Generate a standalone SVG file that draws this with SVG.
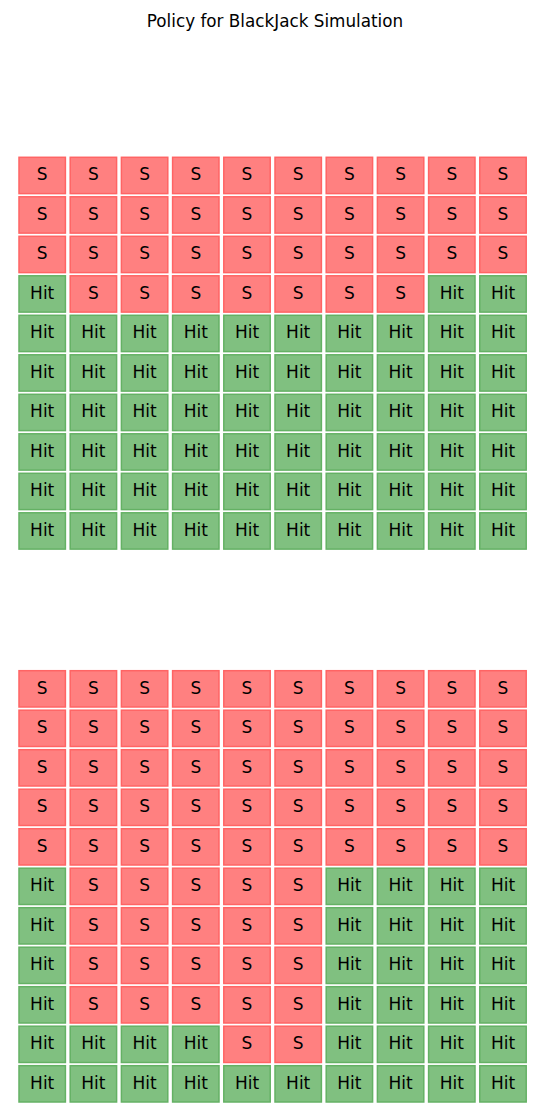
<svg xmlns="http://www.w3.org/2000/svg" width="550" height="1120" viewBox="0 0 550 1120">
<style>
.s rect{fill:#ff8080;stroke:#ff6464;stroke-width:1.5}
.h rect{fill:#80c080;stroke:#64b164;stroke-width:1.5}
text{font-family:"DejaVu Sans","Liberation Sans",sans-serif;font-size:17px;fill:#000;text-anchor:middle}
.title{font-size:16.8px}
</style>
<rect width="550" height="1120" fill="#fff"/>
<text class="title" x="275" y="27">Policy for BlackJack Simulation</text>
<g id="connectors"></g>
<g id="top-grid">
<g id="t-0-0" class="s" transform="translate(19,157.3)"><rect width="46.4" height="36.3"/><text x="23.2" y="23">S</text></g>
<g id="t-0-1" class="s" transform="translate(70.2,157.3)"><rect width="46.4" height="36.3"/><text x="23.2" y="23">S</text></g>
<g id="t-0-2" class="s" transform="translate(121.4,157.3)"><rect width="46.4" height="36.3"/><text x="23.2" y="23">S</text></g>
<g id="t-0-3" class="s" transform="translate(172.6,157.3)"><rect width="46.4" height="36.3"/><text x="23.2" y="23">S</text></g>
<g id="t-0-4" class="s" transform="translate(223.8,157.3)"><rect width="46.4" height="36.3"/><text x="23.2" y="23">S</text></g>
<g id="t-0-5" class="s" transform="translate(275,157.3)"><rect width="46.4" height="36.3"/><text x="23.2" y="23">S</text></g>
<g id="t-0-6" class="s" transform="translate(326.2,157.3)"><rect width="46.4" height="36.3"/><text x="23.2" y="23">S</text></g>
<g id="t-0-7" class="s" transform="translate(377.4,157.3)"><rect width="46.4" height="36.3"/><text x="23.2" y="23">S</text></g>
<g id="t-0-8" class="s" transform="translate(428.6,157.3)"><rect width="46.4" height="36.3"/><text x="23.2" y="23">S</text></g>
<g id="t-0-9" class="s" transform="translate(479.8,157.3)"><rect width="46.4" height="36.3"/><text x="23.2" y="23">S</text></g>
<g id="t-1-0" class="s" transform="translate(19,196.8)"><rect width="46.4" height="36.3"/><text x="23.2" y="23">S</text></g>
<g id="t-1-1" class="s" transform="translate(70.2,196.8)"><rect width="46.4" height="36.3"/><text x="23.2" y="23">S</text></g>
<g id="t-1-2" class="s" transform="translate(121.4,196.8)"><rect width="46.4" height="36.3"/><text x="23.2" y="23">S</text></g>
<g id="t-1-3" class="s" transform="translate(172.6,196.8)"><rect width="46.4" height="36.3"/><text x="23.2" y="23">S</text></g>
<g id="t-1-4" class="s" transform="translate(223.8,196.8)"><rect width="46.4" height="36.3"/><text x="23.2" y="23">S</text></g>
<g id="t-1-5" class="s" transform="translate(275,196.8)"><rect width="46.4" height="36.3"/><text x="23.2" y="23">S</text></g>
<g id="t-1-6" class="s" transform="translate(326.2,196.8)"><rect width="46.4" height="36.3"/><text x="23.2" y="23">S</text></g>
<g id="t-1-7" class="s" transform="translate(377.4,196.8)"><rect width="46.4" height="36.3"/><text x="23.2" y="23">S</text></g>
<g id="t-1-8" class="s" transform="translate(428.6,196.8)"><rect width="46.4" height="36.3"/><text x="23.2" y="23">S</text></g>
<g id="t-1-9" class="s" transform="translate(479.8,196.8)"><rect width="46.4" height="36.3"/><text x="23.2" y="23">S</text></g>
<g id="t-2-0" class="s" transform="translate(19,236.3)"><rect width="46.4" height="36.3"/><text x="23.2" y="23">S</text></g>
<g id="t-2-1" class="s" transform="translate(70.2,236.3)"><rect width="46.4" height="36.3"/><text x="23.2" y="23">S</text></g>
<g id="t-2-2" class="s" transform="translate(121.4,236.3)"><rect width="46.4" height="36.3"/><text x="23.2" y="23">S</text></g>
<g id="t-2-3" class="s" transform="translate(172.6,236.3)"><rect width="46.4" height="36.3"/><text x="23.2" y="23">S</text></g>
<g id="t-2-4" class="s" transform="translate(223.8,236.3)"><rect width="46.4" height="36.3"/><text x="23.2" y="23">S</text></g>
<g id="t-2-5" class="s" transform="translate(275,236.3)"><rect width="46.4" height="36.3"/><text x="23.2" y="23">S</text></g>
<g id="t-2-6" class="s" transform="translate(326.2,236.3)"><rect width="46.4" height="36.3"/><text x="23.2" y="23">S</text></g>
<g id="t-2-7" class="s" transform="translate(377.4,236.3)"><rect width="46.4" height="36.3"/><text x="23.2" y="23">S</text></g>
<g id="t-2-8" class="s" transform="translate(428.6,236.3)"><rect width="46.4" height="36.3"/><text x="23.2" y="23">S</text></g>
<g id="t-2-9" class="s" transform="translate(479.8,236.3)"><rect width="46.4" height="36.3"/><text x="23.2" y="23">S</text></g>
<g id="t-3-0" class="h" transform="translate(19,275.8)"><rect width="46.4" height="36.3"/><text x="23.2" y="23">Hit</text></g>
<g id="t-3-1" class="s" transform="translate(70.2,275.8)"><rect width="46.4" height="36.3"/><text x="23.2" y="23">S</text></g>
<g id="t-3-2" class="s" transform="translate(121.4,275.8)"><rect width="46.4" height="36.3"/><text x="23.2" y="23">S</text></g>
<g id="t-3-3" class="s" transform="translate(172.6,275.8)"><rect width="46.4" height="36.3"/><text x="23.2" y="23">S</text></g>
<g id="t-3-4" class="s" transform="translate(223.8,275.8)"><rect width="46.4" height="36.3"/><text x="23.2" y="23">S</text></g>
<g id="t-3-5" class="s" transform="translate(275,275.8)"><rect width="46.4" height="36.3"/><text x="23.2" y="23">S</text></g>
<g id="t-3-6" class="s" transform="translate(326.2,275.8)"><rect width="46.4" height="36.3"/><text x="23.2" y="23">S</text></g>
<g id="t-3-7" class="s" transform="translate(377.4,275.8)"><rect width="46.4" height="36.3"/><text x="23.2" y="23">S</text></g>
<g id="t-3-8" class="h" transform="translate(428.6,275.8)"><rect width="46.4" height="36.3"/><text x="23.2" y="23">Hit</text></g>
<g id="t-3-9" class="h" transform="translate(479.8,275.8)"><rect width="46.4" height="36.3"/><text x="23.2" y="23">Hit</text></g>
<g id="t-4-0" class="h" transform="translate(19,315.3)"><rect width="46.4" height="36.3"/><text x="23.2" y="23">Hit</text></g>
<g id="t-4-1" class="h" transform="translate(70.2,315.3)"><rect width="46.4" height="36.3"/><text x="23.2" y="23">Hit</text></g>
<g id="t-4-2" class="h" transform="translate(121.4,315.3)"><rect width="46.4" height="36.3"/><text x="23.2" y="23">Hit</text></g>
<g id="t-4-3" class="h" transform="translate(172.6,315.3)"><rect width="46.4" height="36.3"/><text x="23.2" y="23">Hit</text></g>
<g id="t-4-4" class="h" transform="translate(223.8,315.3)"><rect width="46.4" height="36.3"/><text x="23.2" y="23">Hit</text></g>
<g id="t-4-5" class="h" transform="translate(275,315.3)"><rect width="46.4" height="36.3"/><text x="23.2" y="23">Hit</text></g>
<g id="t-4-6" class="h" transform="translate(326.2,315.3)"><rect width="46.4" height="36.3"/><text x="23.2" y="23">Hit</text></g>
<g id="t-4-7" class="h" transform="translate(377.4,315.3)"><rect width="46.4" height="36.3"/><text x="23.2" y="23">Hit</text></g>
<g id="t-4-8" class="h" transform="translate(428.6,315.3)"><rect width="46.4" height="36.3"/><text x="23.2" y="23">Hit</text></g>
<g id="t-4-9" class="h" transform="translate(479.8,315.3)"><rect width="46.4" height="36.3"/><text x="23.2" y="23">Hit</text></g>
<g id="t-5-0" class="h" transform="translate(19,354.8)"><rect width="46.4" height="36.3"/><text x="23.2" y="23">Hit</text></g>
<g id="t-5-1" class="h" transform="translate(70.2,354.8)"><rect width="46.4" height="36.3"/><text x="23.2" y="23">Hit</text></g>
<g id="t-5-2" class="h" transform="translate(121.4,354.8)"><rect width="46.4" height="36.3"/><text x="23.2" y="23">Hit</text></g>
<g id="t-5-3" class="h" transform="translate(172.6,354.8)"><rect width="46.4" height="36.3"/><text x="23.2" y="23">Hit</text></g>
<g id="t-5-4" class="h" transform="translate(223.8,354.8)"><rect width="46.4" height="36.3"/><text x="23.2" y="23">Hit</text></g>
<g id="t-5-5" class="h" transform="translate(275,354.8)"><rect width="46.4" height="36.3"/><text x="23.2" y="23">Hit</text></g>
<g id="t-5-6" class="h" transform="translate(326.2,354.8)"><rect width="46.4" height="36.3"/><text x="23.2" y="23">Hit</text></g>
<g id="t-5-7" class="h" transform="translate(377.4,354.8)"><rect width="46.4" height="36.3"/><text x="23.2" y="23">Hit</text></g>
<g id="t-5-8" class="h" transform="translate(428.6,354.8)"><rect width="46.4" height="36.3"/><text x="23.2" y="23">Hit</text></g>
<g id="t-5-9" class="h" transform="translate(479.8,354.8)"><rect width="46.4" height="36.3"/><text x="23.2" y="23">Hit</text></g>
<g id="t-6-0" class="h" transform="translate(19,394.3)"><rect width="46.4" height="36.3"/><text x="23.2" y="23">Hit</text></g>
<g id="t-6-1" class="h" transform="translate(70.2,394.3)"><rect width="46.4" height="36.3"/><text x="23.2" y="23">Hit</text></g>
<g id="t-6-2" class="h" transform="translate(121.4,394.3)"><rect width="46.4" height="36.3"/><text x="23.2" y="23">Hit</text></g>
<g id="t-6-3" class="h" transform="translate(172.6,394.3)"><rect width="46.4" height="36.3"/><text x="23.2" y="23">Hit</text></g>
<g id="t-6-4" class="h" transform="translate(223.8,394.3)"><rect width="46.4" height="36.3"/><text x="23.2" y="23">Hit</text></g>
<g id="t-6-5" class="h" transform="translate(275,394.3)"><rect width="46.4" height="36.3"/><text x="23.2" y="23">Hit</text></g>
<g id="t-6-6" class="h" transform="translate(326.2,394.3)"><rect width="46.4" height="36.3"/><text x="23.2" y="23">Hit</text></g>
<g id="t-6-7" class="h" transform="translate(377.4,394.3)"><rect width="46.4" height="36.3"/><text x="23.2" y="23">Hit</text></g>
<g id="t-6-8" class="h" transform="translate(428.6,394.3)"><rect width="46.4" height="36.3"/><text x="23.2" y="23">Hit</text></g>
<g id="t-6-9" class="h" transform="translate(479.8,394.3)"><rect width="46.4" height="36.3"/><text x="23.2" y="23">Hit</text></g>
<g id="t-7-0" class="h" transform="translate(19,433.8)"><rect width="46.4" height="36.3"/><text x="23.2" y="23">Hit</text></g>
<g id="t-7-1" class="h" transform="translate(70.2,433.8)"><rect width="46.4" height="36.3"/><text x="23.2" y="23">Hit</text></g>
<g id="t-7-2" class="h" transform="translate(121.4,433.8)"><rect width="46.4" height="36.3"/><text x="23.2" y="23">Hit</text></g>
<g id="t-7-3" class="h" transform="translate(172.6,433.8)"><rect width="46.4" height="36.3"/><text x="23.2" y="23">Hit</text></g>
<g id="t-7-4" class="h" transform="translate(223.8,433.8)"><rect width="46.4" height="36.3"/><text x="23.2" y="23">Hit</text></g>
<g id="t-7-5" class="h" transform="translate(275,433.8)"><rect width="46.4" height="36.3"/><text x="23.2" y="23">Hit</text></g>
<g id="t-7-6" class="h" transform="translate(326.2,433.8)"><rect width="46.4" height="36.3"/><text x="23.2" y="23">Hit</text></g>
<g id="t-7-7" class="h" transform="translate(377.4,433.8)"><rect width="46.4" height="36.3"/><text x="23.2" y="23">Hit</text></g>
<g id="t-7-8" class="h" transform="translate(428.6,433.8)"><rect width="46.4" height="36.3"/><text x="23.2" y="23">Hit</text></g>
<g id="t-7-9" class="h" transform="translate(479.8,433.8)"><rect width="46.4" height="36.3"/><text x="23.2" y="23">Hit</text></g>
<g id="t-8-0" class="h" transform="translate(19,473.3)"><rect width="46.4" height="36.3"/><text x="23.2" y="23">Hit</text></g>
<g id="t-8-1" class="h" transform="translate(70.2,473.3)"><rect width="46.4" height="36.3"/><text x="23.2" y="23">Hit</text></g>
<g id="t-8-2" class="h" transform="translate(121.4,473.3)"><rect width="46.4" height="36.3"/><text x="23.2" y="23">Hit</text></g>
<g id="t-8-3" class="h" transform="translate(172.6,473.3)"><rect width="46.4" height="36.3"/><text x="23.2" y="23">Hit</text></g>
<g id="t-8-4" class="h" transform="translate(223.8,473.3)"><rect width="46.4" height="36.3"/><text x="23.2" y="23">Hit</text></g>
<g id="t-8-5" class="h" transform="translate(275,473.3)"><rect width="46.4" height="36.3"/><text x="23.2" y="23">Hit</text></g>
<g id="t-8-6" class="h" transform="translate(326.2,473.3)"><rect width="46.4" height="36.3"/><text x="23.2" y="23">Hit</text></g>
<g id="t-8-7" class="h" transform="translate(377.4,473.3)"><rect width="46.4" height="36.3"/><text x="23.2" y="23">Hit</text></g>
<g id="t-8-8" class="h" transform="translate(428.6,473.3)"><rect width="46.4" height="36.3"/><text x="23.2" y="23">Hit</text></g>
<g id="t-8-9" class="h" transform="translate(479.8,473.3)"><rect width="46.4" height="36.3"/><text x="23.2" y="23">Hit</text></g>
<g id="t-9-0" class="h" transform="translate(19,512.8)"><rect width="46.4" height="36.3"/><text x="23.2" y="23">Hit</text></g>
<g id="t-9-1" class="h" transform="translate(70.2,512.8)"><rect width="46.4" height="36.3"/><text x="23.2" y="23">Hit</text></g>
<g id="t-9-2" class="h" transform="translate(121.4,512.8)"><rect width="46.4" height="36.3"/><text x="23.2" y="23">Hit</text></g>
<g id="t-9-3" class="h" transform="translate(172.6,512.8)"><rect width="46.4" height="36.3"/><text x="23.2" y="23">Hit</text></g>
<g id="t-9-4" class="h" transform="translate(223.8,512.8)"><rect width="46.4" height="36.3"/><text x="23.2" y="23">Hit</text></g>
<g id="t-9-5" class="h" transform="translate(275,512.8)"><rect width="46.4" height="36.3"/><text x="23.2" y="23">Hit</text></g>
<g id="t-9-6" class="h" transform="translate(326.2,512.8)"><rect width="46.4" height="36.3"/><text x="23.2" y="23">Hit</text></g>
<g id="t-9-7" class="h" transform="translate(377.4,512.8)"><rect width="46.4" height="36.3"/><text x="23.2" y="23">Hit</text></g>
<g id="t-9-8" class="h" transform="translate(428.6,512.8)"><rect width="46.4" height="36.3"/><text x="23.2" y="23">Hit</text></g>
<g id="t-9-9" class="h" transform="translate(479.8,512.8)"><rect width="46.4" height="36.3"/><text x="23.2" y="23">Hit</text></g>
</g>
<g id="bottom-grid">
<g id="b-0-0" class="s" transform="translate(19,670.7)"><rect width="46.4" height="36.3"/><text x="23.2" y="23">S</text></g>
<g id="b-0-1" class="s" transform="translate(70.2,670.7)"><rect width="46.4" height="36.3"/><text x="23.2" y="23">S</text></g>
<g id="b-0-2" class="s" transform="translate(121.4,670.7)"><rect width="46.4" height="36.3"/><text x="23.2" y="23">S</text></g>
<g id="b-0-3" class="s" transform="translate(172.6,670.7)"><rect width="46.4" height="36.3"/><text x="23.2" y="23">S</text></g>
<g id="b-0-4" class="s" transform="translate(223.8,670.7)"><rect width="46.4" height="36.3"/><text x="23.2" y="23">S</text></g>
<g id="b-0-5" class="s" transform="translate(275,670.7)"><rect width="46.4" height="36.3"/><text x="23.2" y="23">S</text></g>
<g id="b-0-6" class="s" transform="translate(326.2,670.7)"><rect width="46.4" height="36.3"/><text x="23.2" y="23">S</text></g>
<g id="b-0-7" class="s" transform="translate(377.4,670.7)"><rect width="46.4" height="36.3"/><text x="23.2" y="23">S</text></g>
<g id="b-0-8" class="s" transform="translate(428.6,670.7)"><rect width="46.4" height="36.3"/><text x="23.2" y="23">S</text></g>
<g id="b-0-9" class="s" transform="translate(479.8,670.7)"><rect width="46.4" height="36.3"/><text x="23.2" y="23">S</text></g>
<g id="b-1-0" class="s" transform="translate(19,710.2)"><rect width="46.4" height="36.3"/><text x="23.2" y="23">S</text></g>
<g id="b-1-1" class="s" transform="translate(70.2,710.2)"><rect width="46.4" height="36.3"/><text x="23.2" y="23">S</text></g>
<g id="b-1-2" class="s" transform="translate(121.4,710.2)"><rect width="46.4" height="36.3"/><text x="23.2" y="23">S</text></g>
<g id="b-1-3" class="s" transform="translate(172.6,710.2)"><rect width="46.4" height="36.3"/><text x="23.2" y="23">S</text></g>
<g id="b-1-4" class="s" transform="translate(223.8,710.2)"><rect width="46.4" height="36.3"/><text x="23.2" y="23">S</text></g>
<g id="b-1-5" class="s" transform="translate(275,710.2)"><rect width="46.4" height="36.3"/><text x="23.2" y="23">S</text></g>
<g id="b-1-6" class="s" transform="translate(326.2,710.2)"><rect width="46.4" height="36.3"/><text x="23.2" y="23">S</text></g>
<g id="b-1-7" class="s" transform="translate(377.4,710.2)"><rect width="46.4" height="36.3"/><text x="23.2" y="23">S</text></g>
<g id="b-1-8" class="s" transform="translate(428.6,710.2)"><rect width="46.4" height="36.3"/><text x="23.2" y="23">S</text></g>
<g id="b-1-9" class="s" transform="translate(479.8,710.2)"><rect width="46.4" height="36.3"/><text x="23.2" y="23">S</text></g>
<g id="b-2-0" class="s" transform="translate(19,749.7)"><rect width="46.4" height="36.3"/><text x="23.2" y="23">S</text></g>
<g id="b-2-1" class="s" transform="translate(70.2,749.7)"><rect width="46.4" height="36.3"/><text x="23.2" y="23">S</text></g>
<g id="b-2-2" class="s" transform="translate(121.4,749.7)"><rect width="46.4" height="36.3"/><text x="23.2" y="23">S</text></g>
<g id="b-2-3" class="s" transform="translate(172.6,749.7)"><rect width="46.4" height="36.3"/><text x="23.2" y="23">S</text></g>
<g id="b-2-4" class="s" transform="translate(223.8,749.7)"><rect width="46.4" height="36.3"/><text x="23.2" y="23">S</text></g>
<g id="b-2-5" class="s" transform="translate(275,749.7)"><rect width="46.4" height="36.3"/><text x="23.2" y="23">S</text></g>
<g id="b-2-6" class="s" transform="translate(326.2,749.7)"><rect width="46.4" height="36.3"/><text x="23.2" y="23">S</text></g>
<g id="b-2-7" class="s" transform="translate(377.4,749.7)"><rect width="46.4" height="36.3"/><text x="23.2" y="23">S</text></g>
<g id="b-2-8" class="s" transform="translate(428.6,749.7)"><rect width="46.4" height="36.3"/><text x="23.2" y="23">S</text></g>
<g id="b-2-9" class="s" transform="translate(479.8,749.7)"><rect width="46.4" height="36.3"/><text x="23.2" y="23">S</text></g>
<g id="b-3-0" class="s" transform="translate(19,789.2)"><rect width="46.4" height="36.3"/><text x="23.2" y="23">S</text></g>
<g id="b-3-1" class="s" transform="translate(70.2,789.2)"><rect width="46.4" height="36.3"/><text x="23.2" y="23">S</text></g>
<g id="b-3-2" class="s" transform="translate(121.4,789.2)"><rect width="46.4" height="36.3"/><text x="23.2" y="23">S</text></g>
<g id="b-3-3" class="s" transform="translate(172.6,789.2)"><rect width="46.4" height="36.3"/><text x="23.2" y="23">S</text></g>
<g id="b-3-4" class="s" transform="translate(223.8,789.2)"><rect width="46.4" height="36.3"/><text x="23.2" y="23">S</text></g>
<g id="b-3-5" class="s" transform="translate(275,789.2)"><rect width="46.4" height="36.3"/><text x="23.2" y="23">S</text></g>
<g id="b-3-6" class="s" transform="translate(326.2,789.2)"><rect width="46.4" height="36.3"/><text x="23.2" y="23">S</text></g>
<g id="b-3-7" class="s" transform="translate(377.4,789.2)"><rect width="46.4" height="36.3"/><text x="23.2" y="23">S</text></g>
<g id="b-3-8" class="s" transform="translate(428.6,789.2)"><rect width="46.4" height="36.3"/><text x="23.2" y="23">S</text></g>
<g id="b-3-9" class="s" transform="translate(479.8,789.2)"><rect width="46.4" height="36.3"/><text x="23.2" y="23">S</text></g>
<g id="b-4-0" class="s" transform="translate(19,828.7)"><rect width="46.4" height="36.3"/><text x="23.2" y="23">S</text></g>
<g id="b-4-1" class="s" transform="translate(70.2,828.7)"><rect width="46.4" height="36.3"/><text x="23.2" y="23">S</text></g>
<g id="b-4-2" class="s" transform="translate(121.4,828.7)"><rect width="46.4" height="36.3"/><text x="23.2" y="23">S</text></g>
<g id="b-4-3" class="s" transform="translate(172.6,828.7)"><rect width="46.4" height="36.3"/><text x="23.2" y="23">S</text></g>
<g id="b-4-4" class="s" transform="translate(223.8,828.7)"><rect width="46.4" height="36.3"/><text x="23.2" y="23">S</text></g>
<g id="b-4-5" class="s" transform="translate(275,828.7)"><rect width="46.4" height="36.3"/><text x="23.2" y="23">S</text></g>
<g id="b-4-6" class="s" transform="translate(326.2,828.7)"><rect width="46.4" height="36.3"/><text x="23.2" y="23">S</text></g>
<g id="b-4-7" class="s" transform="translate(377.4,828.7)"><rect width="46.4" height="36.3"/><text x="23.2" y="23">S</text></g>
<g id="b-4-8" class="s" transform="translate(428.6,828.7)"><rect width="46.4" height="36.3"/><text x="23.2" y="23">S</text></g>
<g id="b-4-9" class="s" transform="translate(479.8,828.7)"><rect width="46.4" height="36.3"/><text x="23.2" y="23">S</text></g>
<g id="b-5-0" class="h" transform="translate(19,868.2)"><rect width="46.4" height="36.3"/><text x="23.2" y="23">Hit</text></g>
<g id="b-5-1" class="s" transform="translate(70.2,868.2)"><rect width="46.4" height="36.3"/><text x="23.2" y="23">S</text></g>
<g id="b-5-2" class="s" transform="translate(121.4,868.2)"><rect width="46.4" height="36.3"/><text x="23.2" y="23">S</text></g>
<g id="b-5-3" class="s" transform="translate(172.6,868.2)"><rect width="46.4" height="36.3"/><text x="23.2" y="23">S</text></g>
<g id="b-5-4" class="s" transform="translate(223.8,868.2)"><rect width="46.4" height="36.3"/><text x="23.2" y="23">S</text></g>
<g id="b-5-5" class="s" transform="translate(275,868.2)"><rect width="46.4" height="36.3"/><text x="23.2" y="23">S</text></g>
<g id="b-5-6" class="h" transform="translate(326.2,868.2)"><rect width="46.4" height="36.3"/><text x="23.2" y="23">Hit</text></g>
<g id="b-5-7" class="h" transform="translate(377.4,868.2)"><rect width="46.4" height="36.3"/><text x="23.2" y="23">Hit</text></g>
<g id="b-5-8" class="h" transform="translate(428.6,868.2)"><rect width="46.4" height="36.3"/><text x="23.2" y="23">Hit</text></g>
<g id="b-5-9" class="h" transform="translate(479.8,868.2)"><rect width="46.4" height="36.3"/><text x="23.2" y="23">Hit</text></g>
<g id="b-6-0" class="h" transform="translate(19,907.7)"><rect width="46.4" height="36.3"/><text x="23.2" y="23">Hit</text></g>
<g id="b-6-1" class="s" transform="translate(70.2,907.7)"><rect width="46.4" height="36.3"/><text x="23.2" y="23">S</text></g>
<g id="b-6-2" class="s" transform="translate(121.4,907.7)"><rect width="46.4" height="36.3"/><text x="23.2" y="23">S</text></g>
<g id="b-6-3" class="s" transform="translate(172.6,907.7)"><rect width="46.4" height="36.3"/><text x="23.2" y="23">S</text></g>
<g id="b-6-4" class="s" transform="translate(223.8,907.7)"><rect width="46.4" height="36.3"/><text x="23.2" y="23">S</text></g>
<g id="b-6-5" class="s" transform="translate(275,907.7)"><rect width="46.4" height="36.3"/><text x="23.2" y="23">S</text></g>
<g id="b-6-6" class="h" transform="translate(326.2,907.7)"><rect width="46.4" height="36.3"/><text x="23.2" y="23">Hit</text></g>
<g id="b-6-7" class="h" transform="translate(377.4,907.7)"><rect width="46.4" height="36.3"/><text x="23.2" y="23">Hit</text></g>
<g id="b-6-8" class="h" transform="translate(428.6,907.7)"><rect width="46.4" height="36.3"/><text x="23.2" y="23">Hit</text></g>
<g id="b-6-9" class="h" transform="translate(479.8,907.7)"><rect width="46.4" height="36.3"/><text x="23.2" y="23">Hit</text></g>
<g id="b-7-0" class="h" transform="translate(19,947.2)"><rect width="46.4" height="36.3"/><text x="23.2" y="23">Hit</text></g>
<g id="b-7-1" class="s" transform="translate(70.2,947.2)"><rect width="46.4" height="36.3"/><text x="23.2" y="23">S</text></g>
<g id="b-7-2" class="s" transform="translate(121.4,947.2)"><rect width="46.4" height="36.3"/><text x="23.2" y="23">S</text></g>
<g id="b-7-3" class="s" transform="translate(172.6,947.2)"><rect width="46.4" height="36.3"/><text x="23.2" y="23">S</text></g>
<g id="b-7-4" class="s" transform="translate(223.8,947.2)"><rect width="46.4" height="36.3"/><text x="23.2" y="23">S</text></g>
<g id="b-7-5" class="s" transform="translate(275,947.2)"><rect width="46.4" height="36.3"/><text x="23.2" y="23">S</text></g>
<g id="b-7-6" class="h" transform="translate(326.2,947.2)"><rect width="46.4" height="36.3"/><text x="23.2" y="23">Hit</text></g>
<g id="b-7-7" class="h" transform="translate(377.4,947.2)"><rect width="46.4" height="36.3"/><text x="23.2" y="23">Hit</text></g>
<g id="b-7-8" class="h" transform="translate(428.6,947.2)"><rect width="46.4" height="36.3"/><text x="23.2" y="23">Hit</text></g>
<g id="b-7-9" class="h" transform="translate(479.8,947.2)"><rect width="46.4" height="36.3"/><text x="23.2" y="23">Hit</text></g>
<g id="b-8-0" class="h" transform="translate(19,986.7)"><rect width="46.4" height="36.3"/><text x="23.2" y="23">Hit</text></g>
<g id="b-8-1" class="s" transform="translate(70.2,986.7)"><rect width="46.4" height="36.3"/><text x="23.2" y="23">S</text></g>
<g id="b-8-2" class="s" transform="translate(121.4,986.7)"><rect width="46.4" height="36.3"/><text x="23.2" y="23">S</text></g>
<g id="b-8-3" class="s" transform="translate(172.6,986.7)"><rect width="46.4" height="36.3"/><text x="23.2" y="23">S</text></g>
<g id="b-8-4" class="s" transform="translate(223.8,986.7)"><rect width="46.4" height="36.3"/><text x="23.2" y="23">S</text></g>
<g id="b-8-5" class="s" transform="translate(275,986.7)"><rect width="46.4" height="36.3"/><text x="23.2" y="23">S</text></g>
<g id="b-8-6" class="h" transform="translate(326.2,986.7)"><rect width="46.4" height="36.3"/><text x="23.2" y="23">Hit</text></g>
<g id="b-8-7" class="h" transform="translate(377.4,986.7)"><rect width="46.4" height="36.3"/><text x="23.2" y="23">Hit</text></g>
<g id="b-8-8" class="h" transform="translate(428.6,986.7)"><rect width="46.4" height="36.3"/><text x="23.2" y="23">Hit</text></g>
<g id="b-8-9" class="h" transform="translate(479.8,986.7)"><rect width="46.4" height="36.3"/><text x="23.2" y="23">Hit</text></g>
<g id="b-9-0" class="h" transform="translate(19,1026.2)"><rect width="46.4" height="36.3"/><text x="23.2" y="23">Hit</text></g>
<g id="b-9-1" class="h" transform="translate(70.2,1026.2)"><rect width="46.4" height="36.3"/><text x="23.2" y="23">Hit</text></g>
<g id="b-9-2" class="h" transform="translate(121.4,1026.2)"><rect width="46.4" height="36.3"/><text x="23.2" y="23">Hit</text></g>
<g id="b-9-3" class="h" transform="translate(172.6,1026.2)"><rect width="46.4" height="36.3"/><text x="23.2" y="23">Hit</text></g>
<g id="b-9-4" class="s" transform="translate(223.8,1026.2)"><rect width="46.4" height="36.3"/><text x="23.2" y="23">S</text></g>
<g id="b-9-5" class="s" transform="translate(275,1026.2)"><rect width="46.4" height="36.3"/><text x="23.2" y="23">S</text></g>
<g id="b-9-6" class="h" transform="translate(326.2,1026.2)"><rect width="46.4" height="36.3"/><text x="23.2" y="23">Hit</text></g>
<g id="b-9-7" class="h" transform="translate(377.4,1026.2)"><rect width="46.4" height="36.3"/><text x="23.2" y="23">Hit</text></g>
<g id="b-9-8" class="h" transform="translate(428.6,1026.2)"><rect width="46.4" height="36.3"/><text x="23.2" y="23">Hit</text></g>
<g id="b-9-9" class="h" transform="translate(479.8,1026.2)"><rect width="46.4" height="36.3"/><text x="23.2" y="23">Hit</text></g>
<g id="b-10-0" class="h" transform="translate(19,1065.7)"><rect width="46.4" height="36.3"/><text x="23.2" y="23">Hit</text></g>
<g id="b-10-1" class="h" transform="translate(70.2,1065.7)"><rect width="46.4" height="36.3"/><text x="23.2" y="23">Hit</text></g>
<g id="b-10-2" class="h" transform="translate(121.4,1065.7)"><rect width="46.4" height="36.3"/><text x="23.2" y="23">Hit</text></g>
<g id="b-10-3" class="h" transform="translate(172.6,1065.7)"><rect width="46.4" height="36.3"/><text x="23.2" y="23">Hit</text></g>
<g id="b-10-4" class="h" transform="translate(223.8,1065.7)"><rect width="46.4" height="36.3"/><text x="23.2" y="23">Hit</text></g>
<g id="b-10-5" class="h" transform="translate(275,1065.7)"><rect width="46.4" height="36.3"/><text x="23.2" y="23">Hit</text></g>
<g id="b-10-6" class="h" transform="translate(326.2,1065.7)"><rect width="46.4" height="36.3"/><text x="23.2" y="23">Hit</text></g>
<g id="b-10-7" class="h" transform="translate(377.4,1065.7)"><rect width="46.4" height="36.3"/><text x="23.2" y="23">Hit</text></g>
<g id="b-10-8" class="h" transform="translate(428.6,1065.7)"><rect width="46.4" height="36.3"/><text x="23.2" y="23">Hit</text></g>
<g id="b-10-9" class="h" transform="translate(479.8,1065.7)"><rect width="46.4" height="36.3"/><text x="23.2" y="23">Hit</text></g>
</g>
</svg>
